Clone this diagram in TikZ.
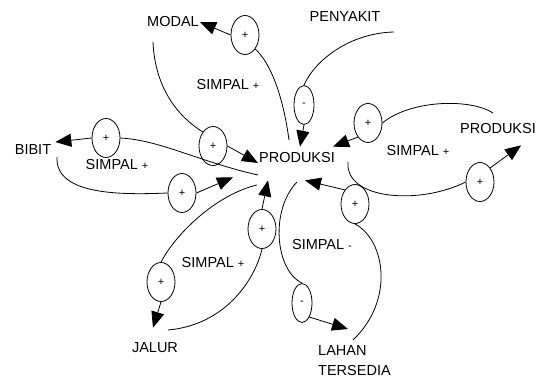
\documentclass[tikz,border=0pt]{standalone}
\usepackage{fontspec}
\setmainfont{Liberation Sans}
\usetikzlibrary{arrows.meta,shapes.geometric}
\begin{document}
\begin{tikzpicture}[x=1pt,y=-1pt,
  lbl/.style={font=\fontsize{14.5}{20}\selectfont, inner sep=1pt},
  plusell/.style={draw, ellipse, minimum width=28pt, minimum height=39pt, inner sep=0pt, font=\fontsize{11}{11}\selectfont, fill=white, line width=0.8pt},
  minusell/.style={plusell, minimum width=20pt},
  lnk/.style={line width=0.8pt},
  arr/.style={lnk, -{Triangle[length=16pt,width=13pt]}}
]
\useasboundingbox (0,0) rectangle (544,383);
% text nodes
\node[lbl] (prod) at (297,158) {PRODUKSI};
\node[lbl] (modal) at (173,22) {MODAL};
\node[lbl] (penyakit) at (345,17) {PENYAKIT};
\node[lbl] (prodR) at (498,129) {PRODUKSI};
\node[lbl] (bibit) at (33,150) {BIBIT};
\node[lbl] (jalur) at (155,348) {JALUR};
\node[lbl, align=left, anchor=north west] (lahan) at (317,344) {LAHAN\\TERSEDIA};
% loop labels
\node[lbl] (s1) at (228,85) {SIMPAL {\fontsize{11}{11}\selectfont +}};
\node[lbl] (s2) at (117,165) {SIMPAL {\fontsize{11}{11}\selectfont +}};
\node[lbl] (s3) at (418,151) {SIMPAL {\fontsize{11}{11}\selectfont +}};
\node[lbl] (s4) at (213,263) {SIMPAL {\fontsize{11}{11}\selectfont +}};
\node[lbl] (s5) at (322,245) {SIMPAL {\fontsize{11}{11}\selectfont -}};
% sign ellipses
\node[plusell] (e1) at (245,35) {+};
\node[plusell] (e2) at (213,146) {+};
\node[minusell] (e3) at (304,105) {-};
\node[plusell] (e4) at (368,123) {+};
\node[plusell] (e5) at (480,182) {+};
\node[plusell] (e6) at (106,138) {+};
\node[plusell] (e7) at (182,193) {+};
\node[plusell] (e8) at (161,282) {+};
\node[plusell] (e9) at (262,229) {+};
\node[minusell] (e10) at (302,303) {-};
\node[plusell] (e11) at (355,204) {+};
% connector start points
\coordinate (c1) at (289,140);
\coordinate (c2) at (153,42);
\coordinate (c3) at (394,32);
\coordinate (c4) at (493,113);
\coordinate (c5) at (348,162);
\coordinate (c6) at (258,175);
\coordinate (c7) at (57,157);
\coordinate (c8) at (257,185);
\coordinate (c9) at (168,330);
\coordinate (c10) at (297,182);
\coordinate (c11) at (353,340);
% MODAL loop
\draw[lnk] (c1) .. controls (283,95) and (270,62) .. (e1.south east);
\draw[arr] (e1.west) -- (modal.east);
\draw[lnk] (c2) .. controls (155,90) and (180,118) .. (e2.north west);
\draw[arr] (e2.east) -- ([yshift=-5pt]prod.west);
% PENYAKIT
\draw[lnk] (c3) .. controls (350,33) and (315,60) .. (e3.north);
\draw[arr] (e3.south) -- ([shift={(3,-5)}]prod.north);
% PRODUKSI right loop
\draw[lnk] (c4) .. controls (470,98) and (410,100) .. (e4.east);
\draw[arr] (e4.south west) -- ([shift={(-3,-5)}]prod.north east);
\draw[lnk] (c5) .. controls (345,200) and (420,205) .. (e5.west);
\draw[arr] (e5.north east) -- ([shift={(-16,10)}]prodR.south east);
% BIBIT loop
\draw[lnk] (c6) .. controls (200,162) and (160,140) .. (e6.east);
\draw[arr] (e6.west) -- ([shift={(3,-8)}]bibit.east);
\draw[lnk] (c7) .. controls (55,195) and (120,195) .. (e7.west);
\draw[arr] (e7.east) -- ([shift={(-25,13)}]prod.south west);
% JALUR loop
\draw[lnk] (c8) .. controls (215,195) and (175,235) .. (e8.north);
\draw[arr] (e8.south) -- ([shift={(-2,-14)}]jalur.north);
\draw[lnk] (c9) .. controls (225,325) and (255,280) .. (e9.south);
\draw[arr] (e9.north) -- ([shift={(-29,16)}]prod.south);
% LAHAN loop
\draw[lnk] (c10) .. controls (270,210) and (275,270) .. (e10.north);
\draw[arr] (e10.south east) -- ([shift={(31,-15)}]lahan.north west);
\draw[lnk] (c11) .. controls (395,300) and (385,240) .. (e11.south);
\draw[arr] (e11.north west) -- ([shift={(8,16)}]prod.south);
\end{tikzpicture}
\end{document}
